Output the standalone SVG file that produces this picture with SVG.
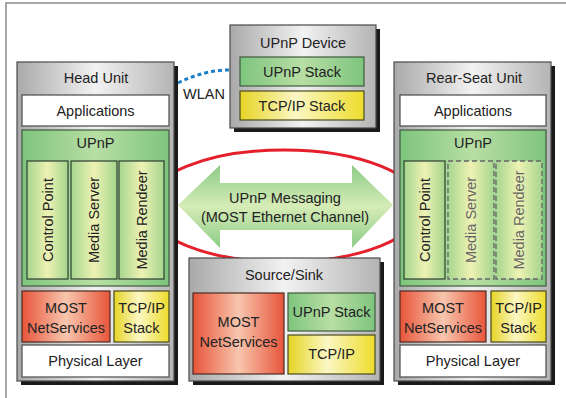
<svg xmlns="http://www.w3.org/2000/svg" width="566" height="398" viewBox="0 0 566 398">
<defs>
<linearGradient id="gGray" x1="0" y1="0" x2="1" y2="0">
<stop offset="0" stop-color="#a9a9a9"/><stop offset="0.5" stop-color="#f2f2f2"/><stop offset="1" stop-color="#b4b4b4"/>
</linearGradient>
<linearGradient id="gGreen" x1="0" y1="0" x2="1" y2="0">
<stop offset="0" stop-color="#7ec57e"/><stop offset="0.5" stop-color="#b8dea4"/><stop offset="1" stop-color="#7ec57e"/>
</linearGradient>
<linearGradient id="gCol" x1="0" y1="0" x2="1" y2="0">
<stop offset="0" stop-color="#a6d68e"/><stop offset="0.5" stop-color="#eef2b4"/><stop offset="1" stop-color="#a6d68e"/>
</linearGradient>
<linearGradient id="gRed" x1="0" y1="0" x2="1" y2="0">
<stop offset="0" stop-color="#e8553a"/><stop offset="0.5" stop-color="#f7c6ae"/><stop offset="1" stop-color="#e8553a"/>
</linearGradient>
<linearGradient id="gYel" x1="0" y1="0" x2="1" y2="0">
<stop offset="0" stop-color="#e6d424"/><stop offset="0.45" stop-color="#fbf7c4"/><stop offset="1" stop-color="#eedc2c"/>
</linearGradient>
<linearGradient id="gArrow" x1="0" y1="0" x2="0" y2="1">
<stop offset="0" stop-color="#8ccb88"/><stop offset="0.5" stop-color="#d6ecb6"/><stop offset="1" stop-color="#8ccb88"/>
</linearGradient>
<filter id="sh" x="-5%" y="-5%" width="115%" height="115%">
<feOffset dx="0" dy="0"/>
</filter>
</defs>
<style>
.frame{fill:none;stroke:#8a8a8a;stroke-width:1.5}
.unit{fill:url(#gGray);stroke:#4a4a4a;stroke-width:1.2}
.shadow{fill:#1a1a1a}
.white{fill:#ffffff;stroke:#4a4a4a;stroke-width:1.2}
.green{fill:url(#gGreen);stroke:#3e5a3e;stroke-width:1.2}
.col{fill:url(#gCol);stroke:#2f3f2f;stroke-width:1.2}
.colD{fill:url(#gCol);stroke:#666;stroke-width:1.3;stroke-dasharray:5,3}
.red{fill:url(#gRed);stroke:#4a2a20;stroke-width:1.2}
.yel{fill:url(#gYel);stroke:#4a4a20;stroke-width:1.2}
text{font-family:"Liberation Sans",Arial,sans-serif;font-size:14.5px;fill:#222;text-anchor:middle}
.dim{fill:#666}
</style>

<path class="frame" d="M6,398 V3 H566"/>

<g id="connectors">
<ellipse cx="284" cy="206" rx="138" ry="56" fill="none" stroke="#e51f2b" stroke-width="3"/>
<path d="M178,83 Q204,70 230,70" fill="none" stroke="#1a7fc8" stroke-width="3" stroke-dasharray="4,3"/>
<text x="204" y="99">WLAN</text>
<g id="messaging">
<polygon points="178,205 220,165 220,183 352,183 352,165 393,205 352,248 352,230 220,230 220,248" fill="url(#gArrow)"/>
<text x="285" y="203">UPnP Messaging</text>
<text x="285" y="222">(MOST Ethernet Channel)</text>
</g>
</g>

<g id="upnp-device">
<rect class="shadow" x="234" y="29" width="146" height="103"/>
<rect class="unit" x="230" y="25" width="146" height="103"/>
<text x="303" y="48">UPnP Device</text>
<rect class="green" x="240" y="57" width="124" height="29"/>
<text x="302" y="77">UPnP Stack</text>
<rect class="yel" x="240" y="91" width="124" height="29"/>
<text x="302" y="111">TCP/IP Stack</text>
</g>

<g id="head-unit">
<rect class="shadow" x="21" y="66" width="157" height="319"/>
<rect class="unit" x="17" y="62" width="157" height="319"/>
<text x="96" y="83">Head Unit</text>
<rect class="white" x="22" y="95" width="147" height="31"/>
<text x="95.5" y="116">Applications</text>
<rect class="green" x="22" y="130" width="147" height="156"/>
<text x="95.5" y="148">UPnP</text>
<rect class="col" x="27" y="161" width="41" height="118"/>
<rect class="col" x="71" y="161" width="46" height="118"/>
<rect class="col" x="119" y="161" width="45" height="118"/>
<text transform="translate(52.5,220) rotate(-90)">Control Point</text>
<text transform="translate(99,220) rotate(-90)">Media Server</text>
<text transform="translate(146.5,220) rotate(-90)">Media Rendeer</text>
<rect class="red" x="22" y="291" width="88" height="51"/>
<text x="66" y="313">MOST</text>
<text x="66" y="333">NetServices</text>
<rect class="yel" x="114" y="291" width="55" height="51"/>
<text x="141.5" y="313">TCP/IP</text>
<text x="141.5" y="333">Stack</text>
<rect class="white" x="22" y="345" width="147" height="32"/>
<text x="95.5" y="366">Physical Layer</text>
</g>

<g id="rear-seat-unit">
<rect class="shadow" x="398" y="66" width="157" height="319"/>
<rect class="unit" x="394" y="62" width="157" height="319"/>
<text x="474" y="83">Rear-Seat Unit</text>
<rect class="white" x="400" y="95" width="146" height="31"/>
<text x="473" y="116">Applications</text>
<rect class="green" x="400" y="130" width="146" height="156"/>
<text x="473" y="148">UPnP</text>
<rect class="col" x="404" y="161" width="41" height="118"/>
<rect class="colD" x="448" y="161" width="46" height="118"/>
<rect class="colD" x="496" y="161" width="46" height="118"/>
<text transform="translate(429.5,220) rotate(-90)">Control Point</text>
<text class="dim" transform="translate(476,220) rotate(-90)">Media Server</text>
<text class="dim" transform="translate(524,220) rotate(-90)">Media Rendeer</text>
<rect class="red" x="400" y="291" width="86" height="51"/>
<text x="443" y="313">MOST</text>
<text x="443" y="333">NetServices</text>
<rect class="yel" x="491" y="291" width="55" height="51"/>
<text x="518.5" y="313">TCP/IP</text>
<text x="518.5" y="333">Stack</text>
<rect class="white" x="400" y="345" width="146" height="32"/>
<text x="473" y="366">Physical Layer</text>
</g>

<g id="source-sink">
<rect class="shadow" x="193" y="262" width="191" height="123"/>
<rect class="unit" x="189" y="258" width="191" height="123"/>
<text x="284" y="280">Source/Sink</text>
<rect class="red" x="193" y="293" width="91" height="81"/>
<text x="238.5" y="327">MOST</text>
<text x="238.5" y="347">NetServices</text>
<rect class="green" x="288" y="293" width="87" height="38"/>
<text x="331.5" y="317">UPnP Stack</text>
<rect class="yel" x="288" y="335" width="87" height="39"/>
<text x="331.5" y="359">TCP/IP</text>
</g>
</svg>
